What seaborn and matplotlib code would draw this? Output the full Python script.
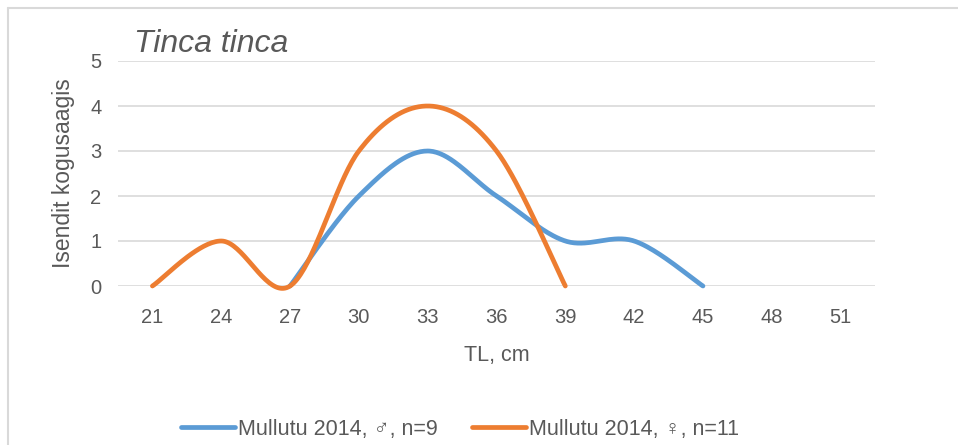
import numpy as np
import pandas as pd
import matplotlib
matplotlib.use("Agg")
import matplotlib.pyplot as plt
import seaborn as sns
from matplotlib.lines import Line2D

categories = [21, 24, 27, 30, 33, 36, 39, 42, 45, 48, 51]
male = [None, None, 0, 2, 3, 2, 1, 1, 0, None, None]
female = [0, 1, 0, 3, 4, 3, 0, None, None, None, None]
male_label = "Mullutu 2014, \u2642, n=9"
female_label = "Mullutu 2014, \u2640, n=11"
title = "Tinca tinca"
xlabel = "TL, cm"
ylabel = "Isendit kogusaagis"

BLUE = "#5B9BD5"
ORANGE = "#ED7D31"
TXT = "#595959"

sns.set_style("white")
plt.rcParams['font.family'] = ['Liberation Sans', 'DejaVu Sans']


def smooth(xs, ys, n=40):
    """Excel-like Bezier smoothing (Catmull-Rom control points)."""
    pts = np.array(list(zip(xs, ys)), dtype=float)
    out = []
    m = len(pts)
    for i in range(m - 1):
        p0 = pts[i - 1] if i > 0 else pts[i]
        p1 = pts[i]
        p2 = pts[i + 1]
        p3 = pts[i + 2] if i + 2 < m else pts[i + 1]
        c1 = p1 + (p2 - p0) / 6.0
        c2 = p2 - (p3 - p1) / 6.0
        t = np.linspace(0, 1, n)[:, None]
        seg = ((1 - t) ** 3) * p1 + 3 * ((1 - t) ** 2) * t * c1 + 3 * (1 - t) * t ** 2 * c2 + t ** 3 * p2
        if i > 0:
            seg = seg[1:]
        out.append(seg)
    return np.vstack(out)


frames = []
for name, vals in [(male_label, male), (female_label, female)]:
    idx = [i for i, v in enumerate(vals) if v is not None]
    ys = [vals[i] for i in idx]
    curve = smooth(idx, ys)
    frames.append(pd.DataFrame({"x": curve[:, 0], "y": curve[:, 1], "series": name}))
df = pd.concat(frames, ignore_index=True)

fig = plt.figure(figsize=(9.58, 4.45), dpi=100)
ax = fig.add_axes([118 / 958, 1 - 286 / 445, (875 - 118) / 958, (286 - 61) / 445])

sns.lineplot(data=df, x="x", y="y", hue="series", sort=False, estimator=None,
             units="series", palette=[BLUE, ORANGE], linewidth=3.4, ax=ax,
             legend=False, solid_capstyle="round", zorder=3)

ax.set_xlim(-0.5, len(categories) - 0.5)
ax.set_ylim(0, 5)
ax.set_xticks(range(len(categories)))
ax.set_xticklabels([str(c) for c in categories])
ax.set_yticks(range(0, 6))
ax.tick_params(axis='both', length=0, labelsize=14.5, colors=TXT)
ax.tick_params(axis='x', pad=16)
ax.tick_params(axis='y', pad=12)
ax.grid(axis='y', color="#D9D9D9", linewidth=1.2)
ax.set_axisbelow(True)
for s in ax.spines.values():
    s.set_visible(False)
for l in ax.lines:
    l.set_clip_on(False)

ax.set_xlabel(xlabel, fontsize=15.5, color=TXT, labelpad=13)
ax.set_ylabel(ylabel, fontsize=16.5, color=TXT, labelpad=11)

fig.text(134 / 958, 1 - 44 / 445, title, fontsize=23, style='italic', color=TXT,
         ha='left', va='center')

handles = [Line2D([0], [0], color=BLUE, lw=3.4, solid_capstyle='round'),
           Line2D([0], [0], color=ORANGE, lw=3.4, solid_capstyle='round')]
fig.legend(handles, [male_label, female_label], loc='center', bbox_to_anchor=(0.48, 1 - 429 / 445),
           ncol=2, frameon=False, fontsize=15.5, labelcolor=TXT, handlelength=2.5,
           handletextpad=0.15, columnspacing=1.6)

# outer chart border (left and top visible)
fig.add_artist(Line2D([8 / 958, 8 / 958], [0, 1 - 8 / 445], transform=fig.transFigure,
                      color="#D9D9D9", lw=1.5))
fig.add_artist(Line2D([8 / 958, 1], [1 - 8 / 445, 1 - 8 / 445], transform=fig.transFigure,
                      color="#D9D9D9", lw=1.5))

fig.savefig("out.png", dpi=100, facecolor="white")
